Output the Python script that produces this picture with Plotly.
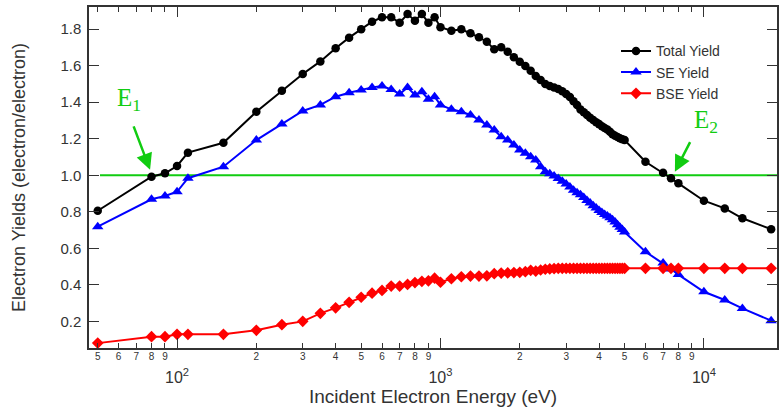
import numpy as np
import plotly.graph_objects as go

energy = [50, 80, 90, 100, 110, 150, 200, 250, 300, 350, 400, 450, 500, 550, 600, 650,
          700, 750, 800, 850, 900, 950,
          1000, 1100, 1200, 1300, 1400, 1500, 1600, 1700, 1800, 1900,
          2000, 2100, 2200, 2300, 2400, 2500, 2600, 2700, 2800, 2900,
          3000, 3100, 3200, 3300, 3400, 3500, 3600, 3700, 3800, 3900,
          4000, 4100, 4200, 4300, 4400, 4500, 4600, 4700, 4800, 4900,
          5000, 6000, 7000, 7500, 8000, 10000, 12000, 14000, 18000]

total_yield = [0.806, 0.992, 1.011, 1.051, 1.124, 1.178, 1.348, 1.463, 1.554, 1.623,
               1.695, 1.753, 1.799, 1.840, 1.864, 1.864, 1.835, 1.882, 1.846, 1.882,
               1.835, 1.864,
               1.810, 1.791, 1.799, 1.777, 1.755, 1.731, 1.689, 1.700, 1.676, 1.646,
               1.621, 1.598, 1.572, 1.543, 1.521, 1.499, 1.488, 1.480, 1.472, 1.460,
               1.445, 1.428, 1.405, 1.385, 1.360, 1.345, 1.330, 1.315, 1.302, 1.290,
               1.280, 1.268, 1.259, 1.250, 1.238, 1.225, 1.217, 1.210, 1.203, 1.197,
               1.193, 1.074, 1.014, 0.984, 0.956, 0.861, 0.819, 0.765, 0.705]

se_yield = [0.719, 0.869, 0.887, 0.910, 0.984, 1.047, 1.193, 1.281, 1.352, 1.385,
            1.430, 1.452, 1.467, 1.481, 1.488, 1.470, 1.445, 1.481, 1.439, 1.457,
            1.416, 1.430,
            1.385, 1.361, 1.348, 1.330, 1.303, 1.275, 1.248, 1.211, 1.193, 1.166,
            1.138, 1.120, 1.102, 1.084, 1.047, 1.020, 1.008, 0.996, 0.982, 0.968,
            0.952, 0.936, 0.918, 0.905, 0.893, 0.878, 0.862, 0.848, 0.834, 0.821,
            0.808, 0.796, 0.786, 0.777, 0.768, 0.757, 0.744, 0.730, 0.716, 0.703,
            0.690, 0.582, 0.520, 0.488, 0.457, 0.363, 0.318, 0.272, 0.205]

bse_yield = [0.082, 0.117, 0.117, 0.130, 0.130, 0.130, 0.152, 0.183, 0.201, 0.245,
             0.275, 0.305, 0.333, 0.355, 0.370, 0.394, 0.394, 0.403, 0.413, 0.420,
             0.423, 0.437,
             0.415, 0.434, 0.445, 0.449, 0.449, 0.450, 0.462, 0.465, 0.466, 0.468,
             0.469, 0.473, 0.480, 0.476, 0.482, 0.486, 0.488, 0.490, 0.491, 0.491,
             0.491, 0.491, 0.491, 0.491, 0.491, 0.491, 0.491, 0.491, 0.491, 0.491,
             0.491, 0.491, 0.491, 0.491, 0.491, 0.491, 0.491, 0.491, 0.491, 0.491,
             0.491, 0.491, 0.491, 0.491, 0.491, 0.491, 0.491, 0.491, 0.491]

unity_x = [51, 20000]
unity_y = [1.0, 1.0]

y_ticks = [0.2, 0.4, 0.6, 0.8, 1.0, 1.2, 1.4, 1.6, 1.8]
decade_vals = [100, 1000, 10000]
decade_text = ["10<sup>2</sup>", "10<sup>3</sup>", "10<sup>4</sup>"]
minor_vals = [50, 60, 70, 80, 90, 200, 300, 400, 500, 600, 700, 800, 900,
              2000, 3000, 4000, 5000, 6000, 7000, 8000, 9000]
minor_text = ["5", "6", "7", "8", "9", "2", "3", "4", "5", "6", "7", "8", "9",
              "2", "3", "4", "5", "6", "7", "8", "9"]

E1_tip = (79, 1.03)
E2_tip = (7760, 1.02)

GREEN = "#11CC11"
FONT = "Liberation Sans, Arial, sans-serif"
TXT = "#333333"
xr = [1.6658, 4.2775]
yr = [0.0553, 1.9207]

fig = go.Figure()
fig.add_trace(go.Scatter(x=unity_x, y=unity_y, mode="lines", showlegend=False,
                         line=dict(color=GREEN, width=2), hoverinfo="skip"))
fig.add_trace(go.Scatter(x=energy, y=total_yield, mode="lines+markers", name="Total Yield",
                         line=dict(color="black", width=2),
                         marker=dict(symbol="circle", size=8.5, color="black")))
fig.add_trace(go.Scatter(x=energy, y=se_yield, mode="lines+markers", name="SE Yield",
                         line=dict(color="#0000FF", width=2),
                         marker=dict(symbol="triangle-up", size=10, color="#0000FF")))
fig.add_trace(go.Scatter(x=energy, y=bse_yield, mode="lines+markers", name="BSE Yield",
                         line=dict(color="#FF0000", width=2),
                         marker=dict(symbol="diamond", size=9, color="#FF0000")))
# overlay axis for the digit labels of minor ticks
fig.add_trace(go.Scatter(x=[energy[0]], y=[total_yield[0]], xaxis="x2", mode="markers",
                         marker=dict(opacity=0), showlegend=False, hoverinfo="skip"))

fig.update_layout(
    width=779, height=411,
    margin=dict(l=89, r=0, t=7, b=63),
    paper_bgcolor="white", plot_bgcolor="white",
    font=dict(family=FONT, color=TXT),
    xaxis=dict(type="log", range=xr, tickvals=decade_vals, ticktext=decade_text,
               ticks="inside", ticklen=10, tickwidth=1.3, tickcolor="#333",
               showline=True, linecolor="#333", linewidth=1.5, mirror="ticks",
               showgrid=False, zeroline=False, tickfont=dict(size=16, color=TXT),
               ticklabelstandoff=14,
               minor=dict(tickvals=minor_vals, ticks="inside", ticklen=5,
                          tickwidth=1.2, tickcolor="#333", showgrid=False),
               title=dict(text="Incident Electron Energy (eV)", font=dict(size=19, color=TXT),
                          standoff=2)),
    xaxis2=dict(type="log", range=xr, overlaying="x", anchor="y", side="bottom",
                tickvals=minor_vals, ticktext=minor_text, ticks="", showline=False,
                showgrid=False, zeroline=False, tickfont=dict(size=10, color=TXT),
                ticklabelstandoff=1),
    yaxis=dict(range=yr, tickvals=y_ticks, tickformat=".1f", ticks="inside", ticklen=10,
               tickwidth=1.3, tickcolor="#333", showline=True, linecolor="#333",
               linewidth=1.5, mirror="ticks", showgrid=False, zeroline=False,
               tickfont=dict(size=15, color=TXT), ticklabelstandoff=3,
               title=dict(text="Electron Yields (electron/electron)",
                          font=dict(size=18, color=TXT), standoff=30)),
    legend=dict(x=0.766, y=0.917, xanchor="left", yanchor="top",
                font=dict(size=14, color=TXT), bgcolor="rgba(0,0,0,0)"),
    showlegend=True,
)

ann_font = dict(family="Liberation Serif, Times New Roman, serif", size=25, color=GREEN)
fig.add_annotation(x=np.log10(E1_tip[0]), y=E1_tip[1], xref="x", yref="y", text="",
                   showarrow=True, ax=-17, ay=-45, arrowcolor=GREEN, arrowwidth=2.5,
                   arrowhead=2, arrowsize=1.3)
fig.add_annotation(x=np.log10(E2_tip[0]), y=E2_tip[1], xref="x", yref="y", text="",
                   showarrow=True, ax=16, ay=-31, arrowcolor=GREEN, arrowwidth=2.5,
                   arrowhead=2, arrowsize=1.3)
fig.add_annotation(x=np.log10(E1_tip[0]), y=E1_tip[1], xref="x", yref="y",
                   text="E<sub>1</sub>", showarrow=False, xshift=-21, yshift=70,
                   font=ann_font)
fig.add_annotation(x=np.log10(E2_tip[0]), y=E2_tip[1], xref="x", yref="y",
                   text="E<sub>2</sub>", showarrow=False, xshift=31, yshift=50,
                   font=ann_font)

fig.write_html("out.html")
